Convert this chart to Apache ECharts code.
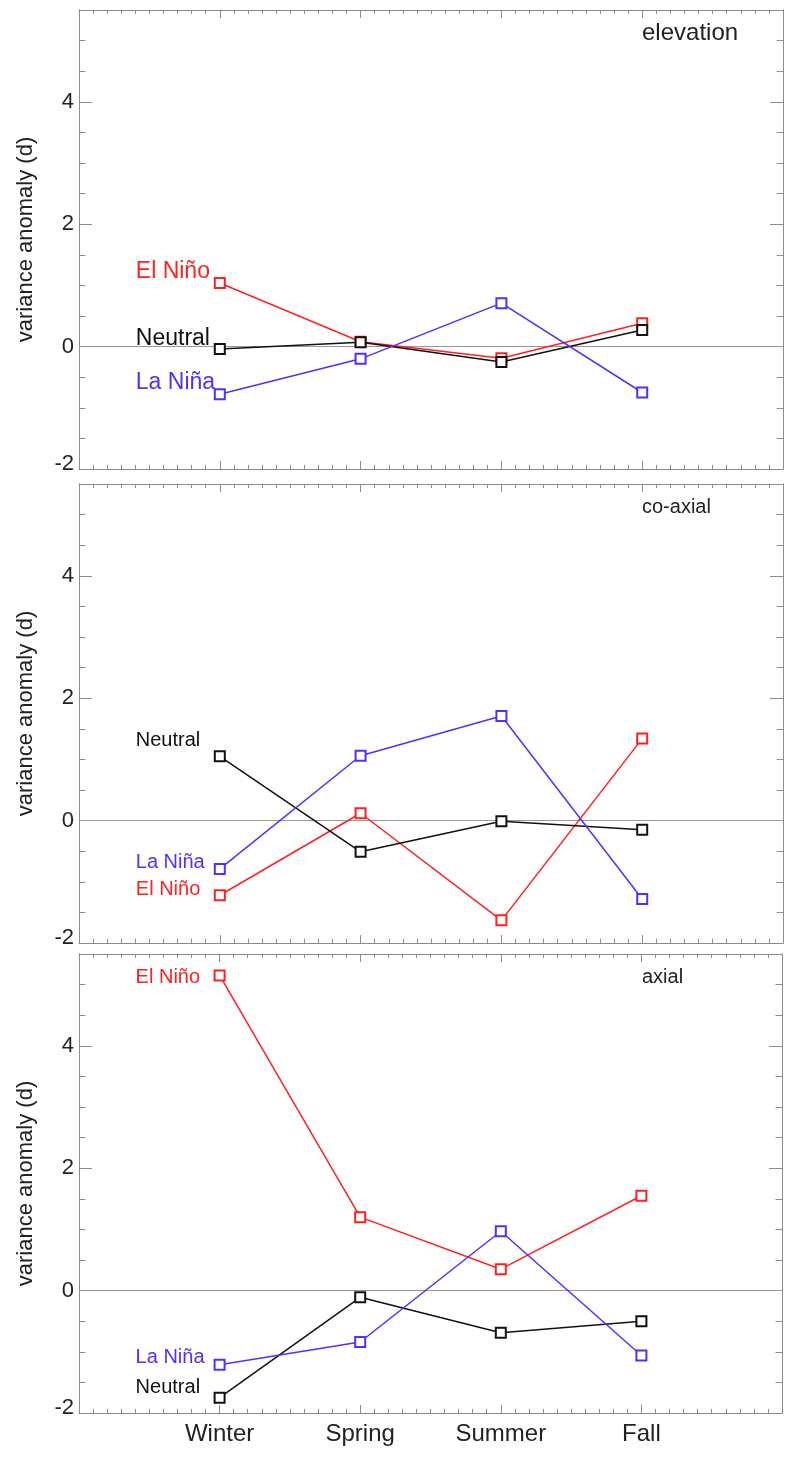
<!DOCTYPE html>
<html>
<head>
<meta charset="utf-8">
<script src="https://cdn.jsdelivr.net/npm/echarts@6/dist/echarts.min.js"></script>
<style>
  html, body { margin: 0; padding: 0; background: #fff; }
  #chart { width: 785px; height: 1458px; }
</style>
</head>
<body>
<div id="chart"></div>
<script>
// Seasonal variance anomaly (days) for three components, by ENSO phase
const seasons = ['Winter', 'Spring', 'Summer', 'Fall'];
const panelNames = ['elevation', 'co-axial', 'axial'];
const yTickLabels = [-2, 0, 2, 4];

const elevElNino   = [1.04, 0.08, -0.19, 0.38];
const elevNeutral  = [-0.04, 0.07, -0.25, 0.27];
const elevLaNina   = [-0.78, -0.20, 0.71, -0.75];

const coaxElNino   = [-1.22, 0.12, -1.63, 1.34];
const coaxNeutral  = [1.05, -0.51, -0.01, -0.15];
const coaxLaNina   = [-0.79, 1.06, 1.71, -1.28];

const axialElNino  = [5.15, 1.20, 0.35, 1.55];
const axialNeutral = [-1.75, -0.11, -0.69, -0.50];
const axialLaNina  = [-1.21, -0.84, 0.97, -1.06];

const phaseNames = ['El Niño', 'Neutral', 'La Niña'];
const panelSeries = [
  [elevElNino, elevNeutral, elevLaNina],
  [coaxElNino, coaxNeutral, coaxLaNina],
  [axialElNino, axialNeutral, axialLaNina]
];

// styling
const FONT = 'Liberation Sans, Arial, Helvetica, sans-serif';
const phaseColors = ['#ff2020', '#111111', '#4f30ff'];
const frameColor = '#8c8c8c';
const gridTops = [10, 484, 954];
const gridHeight = 459;
// label offsets (dx, dy) from the Winter marker, per panel and phase
const labelOffsets = [
  [[-84, -11], [-84, -10], [-84, -12]],
  [[-84, -6], [-84, -16], [-84, -6.5]],
  [[-84, 2.5], [-84, -10.5], [-84, -7.5]]
];
const labelSizes = [23, 20, 20];
const titleSizes = [24, 20, 20];
const titleTops = [21, 497, 967];

const grids = [], xAxes = [], yAxes = [], series = [], titles = [];

gridTops.forEach((top, g) => {
  grids.push({ left: 79, right: 2, top: top, height: gridHeight, containLabel: false });

  const line = { show: true, onZero: false, lineStyle: { color: frameColor, width: 1 } };

  // bottom and top x axes
  ['bottom', 'top'].forEach((pos) => {
    xAxes.push({
      type: 'value', gridIndex: g, position: pos, min: 0, max: 5, interval: 1,
      axisLine: line,
      axisTick: { show: true, inside: true, length: 8, lineStyle: { color: frameColor } },
      minorTick: { show: true, splitNumber: 10, length: 4, lineStyle: { color: frameColor } },
      splitLine: { show: false },
      axisLabel: {
        show: pos === 'bottom' && g === 2,
        margin: 9, fontSize: 24, fontFamily: FONT, color: '#222',
        formatter: (v) => (Number.isInteger(v) && v >= 1 && v <= 4) ? seasons[v - 1] : ''
      }
    });
  });

  // y axes: major/minor ticks on the left and on the right
  ['left', 'right'].forEach((pos) => {
    yAxes.push({
      type: 'value', gridIndex: g, position: pos, min: -2, max: 5.5, interval: 2,
      axisLine: line,
      axisTick: { show: true, inside: true, length: 13, lineStyle: { color: frameColor } },
      splitLine: { show: false },
      axisLabel: {
        show: pos === 'left', margin: 5, fontSize: 22, fontFamily: FONT, color: '#222',
        formatter: (v) => !yTickLabels.includes(v) ? '' : (v === -2 ? '{low|-2}' : String(v)),
        rich: { low: { fontSize: 22, fontFamily: FONT, color: '#222', padding: [0, 0, 10, 0] } }
      },
      name: pos === 'left' ? 'variance anomaly (d)' : '',
      nameLocation: 'middle', nameGap: 42,
      nameTextStyle: { fontSize: 22, fontFamily: FONT, color: '#222' }
    });
    yAxes.push({
      type: 'value', gridIndex: g, position: pos, min: -2, max: 5.5, interval: 0.5,
      axisLine: line,
      axisTick: { show: true, inside: true, length: 6.5, lineStyle: { color: frameColor } },
      splitLine: { show: false },
      axisLabel: { show: false }
    });
  });

  panelSeries[g].forEach((vals, k) => {
    const color = phaseColors[k];
    const off = labelOffsets[g][k];
    const data = vals.map((v, i) => {
      const item = { value: [i + 1, v] };
      if (i === 0) {
        item.label = {
          show: true, position: 'inside', align: 'left', verticalAlign: 'middle',
          offset: off, formatter: phaseNames[k],
          fontSize: labelSizes[g], fontFamily: FONT, color: color
        };
      }
      return item;
    });
    const s = {
      type: 'line', name: phaseNames[k] + ' ' + panelNames[g],
      xAxisIndex: g * 2, yAxisIndex: g * 4,
      data: data,
      symbol: 'emptyRect', symbolSize: 10,
      lineStyle: { color: color, width: 1.5 },
      itemStyle: { color: color, borderColor: color, borderWidth: 1.5 },
      label: { show: false },
      emphasis: { disabled: true },
      z: 3 + k
    };
    if (k === 0) {
      s.markLine = {
        silent: true, symbol: 'none', animation: false,
        label: { show: false },
        lineStyle: { color: '#999', width: 1, type: 'solid' },
        data: [{ yAxis: 0 }],
        z: 1
      };
    }
    series.push(s);
  });

  titles.push({
    text: panelNames[g], left: 642, top: titleTops[g], padding: 0,
    textStyle: { fontSize: titleSizes[g], fontWeight: 'normal', fontFamily: FONT, color: '#222' }
  });
});

const chart = echarts.init(document.getElementById('chart'), null, { renderer: 'canvas' });
chart.setOption({
  animation: false,
  backgroundColor: '#fff',
  title: titles,
  grid: grids,
  xAxis: xAxes,
  yAxis: yAxes,
  series: series
});
</script>
</body>
</html>
